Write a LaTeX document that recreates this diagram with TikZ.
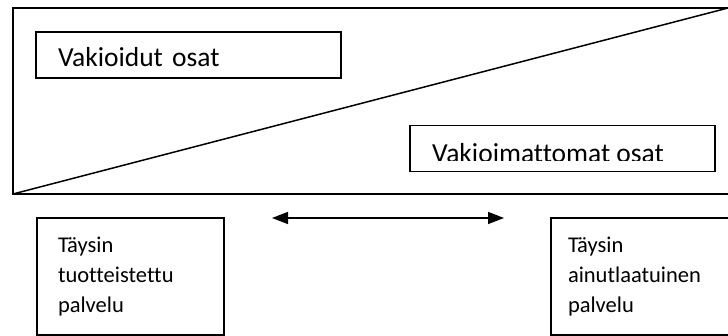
\documentclass[tikz,border=0pt]{standalone}
\usepackage{fontspec}
\setmainfont{Carlito}[Ligatures=NoCommon]
\usetikzlibrary{arrows.meta}

\tikzset{
  viiva/.style={line width=1.5pt},
  osa/.style={draw, viiva, minimum width=305pt, minimum height=46pt, inner sep=0pt,
    text height=24pt, text depth=0pt, align=left, font=\fontsize{27.5}{32}\selectfont},
  palvelu/.style={draw, viiva, minimum width=187pt, minimum height=117pt, inner sep=0pt,
    align=left, font=\fontsize{22.5}{30}\selectfont},
  karki/.tip={Triangle[length=16pt,width=12pt]}
}

\begin{document}
\begin{tikzpicture}[x=1pt,y=-1pt]
        \useasboundingbox (0,0) rectangle (728,336);
        \clip (0,0) rectangle (728,336);

        % iso laatikko ja vinoviiva
        \draw[viiva] (13,8) rectangle (740,194);
        \draw[viiva] (13,194) -- (728,8);

        \node[osa, text width=261pt] (vakioidut) at (188.5,55) {Vakioidut osat};
        \node[osa] (vakioimattomat) at (562.5,148.5) {};
        \begin{scope}
            \clip (410,125) rectangle (715,161);
            \node[anchor=base west, inner sep=0pt, font=\fontsize{27.5}{32}\selectfont]
                (vakioimattomatteksti) at (432,163) {Vakioimattomat osat};
        \end{scope}

        % ala-laatikot
        \node[palvelu, text width=145pt] (tuotteistettu) at (130.5,276.5) {Täysin\\tuotteistettu\\palvelu};
        \node[palvelu, text width=153pt] (ainutlaatuinen) at (644.5,276.5) {Täysin\\ainutlaatuinen\\palvelu};

        \coordinate (vasen) at (272,218);
        \coordinate (oikea) at (504,218);
        \draw[viiva, karki-karki] (vasen) -- (oikea);
\end{tikzpicture}
\end{document}
